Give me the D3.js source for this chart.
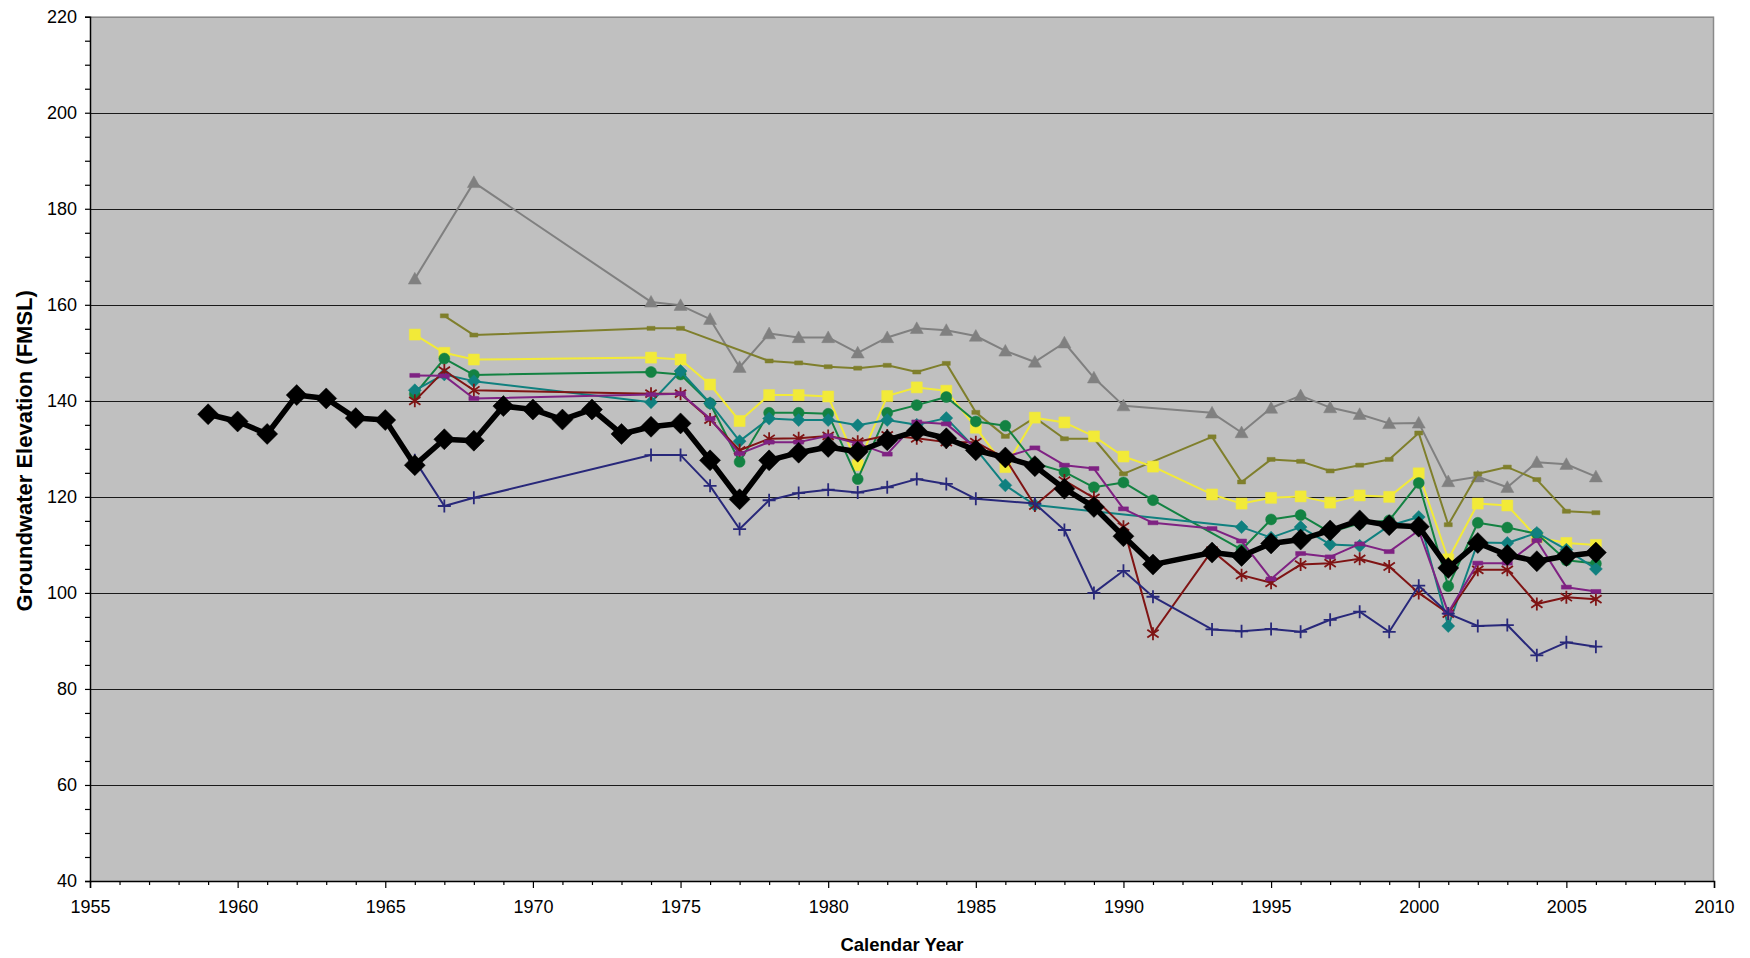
<!DOCTYPE html>
<html>
<head>
<meta charset="utf-8">
<script src="https://cdn.jsdelivr.net/npm/d3@7"></script>
<style>
  body { margin: 0; background: #ffffff; }
  svg { display: block; }
  text { font-family: "Liberation Sans", Arial, sans-serif; fill: #000; }
</style>
</head>
<body>
<svg id="chart" width="1750" height="958"></svg>
<script>
// Axis tick values
const xTickValues = [1955, 1960, 1965, 1970, 1975, 1980, 1985, 1990, 1995, 2000, 2005, 2010];
const yTickValues = [40, 60, 80, 100, 120, 140, 160, 180, 200, 220];

// Basin average (thick black line)
const avgYears = [1959,1960,1961,1962,1963,1964,1965,1966,1967,1968,1969,1970,1971,1972,1973,1974,1975,1976,1977,1978,1979,1980,1981,1982,1983,1984,1985,1986,1987,1988,1989,1990,1991,1993,1994,1995,1996,1997,1998,1999,2000,2001,2002,2003,2004,2005,2006];
const avgValues = [137.2,135.7,133.1,141.2,140.5,136.4,136.0,126.6,132.0,131.7,138.9,138.2,136.1,138.2,133.1,134.6,135.3,127.6,119.5,127.6,129.2,130.4,129.4,131.8,133.7,132.2,129.7,128.2,126.4,121.7,117.9,111.8,105.9,108.4,107.7,110.3,111.1,113.0,115.1,114.1,113.8,105.2,110.4,107.9,106.6,107.7,108.4];

// Individual wells
const grayYears = [1966,1968,1974,1975,1976,1977,1978,1979,1980,1981,1982,1983,1984,1985,1986,1987,1988,1989,1990,1993,1994,1995,1996,1997,1998,1999,2000,2001,2002,2003,2004,2005,2006];
const grayValues = [165.4,185.5,160.6,159.9,157.0,147.0,154.0,153.2,153.2,150.0,153.2,155.1,154.7,153.5,150.4,148.1,152.1,144.8,139.0,137.5,133.4,138.5,141.1,138.6,137.2,135.3,135.4,123.2,124.2,122.0,127.2,126.8,124.2];

const oliveYears = [1967,1968,1974,1975,1978,1979,1980,1981,1982,1983,1984,1985,1986,1987,1988,1989,1990,1993,1994,1995,1996,1997,1998,1999,2000,2001,2002,2003,2004,2005,2006];
const oliveValues = [157.7,153.7,155.1,155.1,148.3,147.9,147.1,146.8,147.4,146.0,147.8,137.6,132.6,136.5,132.1,132.1,124.8,132.5,123.1,127.8,127.4,125.4,126.6,127.8,133.3,114.2,124.8,126.2,123.6,117.0,116.7];

const yellowYears = [1966,1967,1968,1974,1975,1976,1977,1978,1979,1980,1981,1982,1983,1984,1985,1986,1987,1988,1989,1990,1991,1993,1994,1995,1996,1997,1998,1999,2000,2001,2002,2003,2004,2005,2006];
const yellowValues = [153.8,150.0,148.6,149.0,148.6,143.4,135.8,141.2,141.2,140.9,126.6,141.0,142.8,142.1,134.4,126.2,136.5,135.5,132.6,128.4,126.3,120.5,118.6,119.8,120.1,118.8,120.3,120.0,124.9,107.0,118.6,118.2,111.6,110.4,110.0];

const greenYears = [1966,1967,1968,1974,1975,1976,1977,1978,1979,1980,1981,1982,1983,1984,1985,1986,1987,1988,1989,1990,1991,1994,1995,1996,1997,1998,1999,2000,2001,2002,2003,2004,2005,2006];
const greenValues = [141.4,148.8,145.4,146.0,145.5,139.5,127.3,137.5,137.5,137.3,123.7,137.5,139.1,140.8,135.7,134.8,127.0,125.2,122.0,123.0,119.3,109.0,115.3,116.2,112.6,114.5,115.1,122.9,101.4,114.6,113.6,112.3,106.8,106.1];

const tealYears = [1966,1967,1968,1974,1975,1976,1977,1978,1979,1980,1981,1982,1983,1984,1985,1986,1987,1994,1995,1996,1997,1998,1999,2000,2001,2002,2003,2004,2005,2006];
const tealValues = [142.2,145.5,144.1,139.7,146.2,139.5,131.6,136.3,136.0,136.0,134.9,136.0,135.0,136.4,130.0,122.4,118.3,113.7,111.5,113.7,110.1,109.8,114.0,115.8,93.1,110.5,110.4,112.5,109.0,105.0];

const redYears = [1966,1967,1968,1974,1975,1976,1977,1978,1979,1980,1981,1982,1983,1984,1985,1986,1987,1988,1989,1990,1991,1993,1994,1995,1996,1997,1998,1999,2000,2001,2002,2003,2004,2005,2006];
const redValues = [140.0,146.3,142.2,141.5,141.5,136.1,129.7,132.1,132.2,132.7,131.5,132.8,132.2,131.4,131.4,128.0,118.2,123.4,119.8,113.8,91.5,108.8,103.7,102.1,105.9,106.2,107.1,105.5,100.0,95.7,104.8,104.8,97.7,99.1,98.7];

const purpleYears = [1966,1967,1968,1974,1975,1976,1977,1978,1979,1980,1981,1982,1983,1984,1985,1986,1987,1988,1989,1990,1991,1993,1994,1995,1996,1997,1998,1999,2000,2001,2002,2003,2004,2005,2006];
const purpleValues = [145.3,145.2,140.5,141.3,141.5,136.3,129.0,131.4,131.4,132.7,131.1,128.9,135.6,135.2,130.2,128.3,130.2,126.6,125.9,117.5,114.6,113.4,110.8,102.9,108.2,107.5,110.2,108.6,113.0,95.9,106.2,106.2,110.9,101.2,100.3];

const navyYears = [1966,1967,1968,1974,1975,1976,1977,1978,1979,1980,1981,1982,1983,1984,1985,1987,1988,1989,1990,1991,1993,1994,1995,1996,1997,1998,1999,2000,2001,2002,2003,2004,2005,2006];
const navyValues = [127.6,118.1,119.8,128.7,128.7,122.3,113.3,119.3,120.8,121.5,120.9,122.0,123.7,122.7,119.6,118.6,113.1,100.0,104.6,99.2,92.4,92.0,92.5,91.9,94.4,96.1,91.9,101.5,95.7,93.1,93.3,87.0,89.7,88.8];

// Chart layout
const plot = { left: 90, right: 1714, top: 16.7, bottom: 881 };

const svg = d3.select("#chart");

const x = d3.scaleLinear().domain([1955, 2010]).range([plot.left, plot.right]);
const y = d3.scaleLinear().domain([40, 220]).range([plot.bottom, plot.top]);

// Plot background
svg.append("rect")
  .attr("x", plot.left).attr("y", plot.top)
  .attr("width", plot.right - plot.left).attr("height", plot.bottom - plot.top)
  .attr("fill", "#c0c0c0");

// Horizontal gridlines
svg.append("g")
  .selectAll("line")
  .data(yTickValues.filter(v => v > 40 && v < 220))
  .join("line")
  .attr("x1", plot.left).attr("x2", plot.right)
  .attr("y1", d => Math.round(y(d)) + 0.5).attr("y2", d => Math.round(y(d)) + 0.5)
  .attr("stroke", "#1a1a1a").attr("stroke-width", 1);

// Gray frame on top and right
svg.append("path")
  .attr("d", `M${plot.left},${plot.top + 0.5}H${plot.right - 0.5}V${plot.bottom}`)
  .attr("fill", "none").attr("stroke", "#8a8a8a").attr("stroke-width", 1.5);

// Minor ticks (every year / every 5 ft)
const minorX = d3.range(1955, 2011).filter(v => v % 5 !== 0);
const minorY = d3.range(40, 221, 5).filter(v => v % 20 !== 0);

const xMinor = svg.append("g").attr("transform", `translate(0,${plot.bottom})`)
  .call(d3.axisBottom(x).tickValues(minorX).tickSize(4).tickFormat(""));
xMinor.select(".domain").remove();

const yMinor = svg.append("g").attr("transform", `translate(${plot.left},0)`)
  .call(d3.axisLeft(y).tickValues(minorY).tickSize(5).tickFormat(""));
yMinor.select(".domain").remove();

// Major axes
const xAxis = svg.append("g").attr("transform", `translate(0,${plot.bottom})`)
  .call(d3.axisBottom(x).tickValues(xTickValues).tickSize(7).tickPadding(12).tickFormat(d3.format("d")));
const yAxis = svg.append("g").attr("transform", `translate(${plot.left},0)`)
  .call(d3.axisLeft(y).tickValues(yTickValues).tickSize(5).tickPadding(8).tickFormat(d3.format("d")));

[xAxis, yAxis, xMinor, yMinor].forEach(g => {
  g.selectAll(".tick line").attr("stroke", "#000").attr("stroke-width", 1.2);
  g.selectAll(".domain").attr("stroke", "#000").attr("stroke-width", 1.5);
  g.selectAll("text").attr("font-size", 18).attr("font-family", '"Liberation Sans", Arial, sans-serif').attr("fill", "#000");
});

// Axis titles
svg.append("text")
  .attr("x", (plot.left + plot.right) / 2).attr("y", 951)
  .attr("text-anchor", "middle").attr("font-size", 18.5).attr("font-weight", "bold")
  .text("Calendar Year");

svg.append("text")
  .attr("transform", `translate(32,${(plot.top + plot.bottom) / 2 + 2}) rotate(-90)`)
  .attr("text-anchor", "middle").attr("font-size", 22).attr("font-weight", "bold")
  .text("Groundwater Elevation (FMSL)");

// Marker shape generators (size = half-extent in px)
const shapes = {
  diamond: s => `M0,${-s}L${s},0L0,${s}L${-s},0Z`,
  square: s => `M${-s},${-s}H${s}V${s}H${-s}Z`,
  triangle: s => `M0,${-s}L${s},${s * 0.8}L${-s},${s * 0.8}Z`,
  circle: s => `M${-s},0A${s},${s} 0 1,0 ${s},0A${s},${s} 0 1,0 ${-s},0Z`,
  dash: s => `M${-s},-2H${s}V2H${-s}Z`,
  plus: s => `M0,${-s}V${s}M${-s},0H${s}`,
  asterisk: s => `M0,${-s}V${s}M${-s * 0.87},${-s * 0.6}L${s * 0.87},${s * 0.6}M${-s * 0.87},${s * 0.6}L${s * 0.87},${-s * 0.6}`
};

const series = [
  { years: grayYears,   values: grayValues,   color: "#808080", width: 2,   shape: "triangle", size: 6.5, filled: true },
  { years: oliveYears,  values: oliveValues,  color: "#7f7f2c", width: 2,   shape: "dash",     size: 4,   filled: true },
  { years: yellowYears, values: yellowValues, color: "#f2ea38", width: 2,   shape: "square",   size: 5.5, filled: true },
  { years: greenYears,  values: greenValues,  color: "#138242", width: 2,   shape: "circle",   size: 5.5, filled: true },
  { years: tealYears,   values: tealValues,   color: "#10807f", width: 2,   shape: "diamond",  size: 6.5, filled: true },
  { years: redYears,    values: redValues,    color: "#7f1414", width: 2,   shape: "asterisk", size: 6.5, filled: false },
  { years: purpleYears, values: purpleValues, color: "#7f2283", width: 2,   shape: "dash",     size: 5,   filled: true },
  { years: navyYears,   values: navyValues,   color: "#28287a", width: 2,   shape: "plus",     size: 6.5, filled: false },
  { years: avgYears,    values: avgValues,    color: "#000000", width: 5.5, shape: "diamond",  size: 10.5, filled: true }
];

const line = d3.line().x(d => x(d[0])).y(d => y(d[1]));

series.forEach(s => {
  const pts = s.years.map((yr, i) => [yr, s.values[i]]);
  const g = svg.append("g");
  g.append("path")
    .datum(pts)
    .attr("d", line)
    .attr("fill", "none")
    .attr("stroke", s.color)
    .attr("stroke-width", s.width)
    .attr("stroke-linejoin", "round");
  g.selectAll("path.marker")
    .data(pts)
    .join("path")
    .attr("class", "marker")
    .attr("transform", d => `translate(${x(d[0])},${y(d[1])})`)
    .attr("d", shapes[s.shape](s.size))
    .attr("fill", s.filled ? s.color : "none")
    .attr("stroke", s.color)
    .attr("stroke-width", s.filled ? 0.5 : 1.8);
});
</script>
</body>
</html>
